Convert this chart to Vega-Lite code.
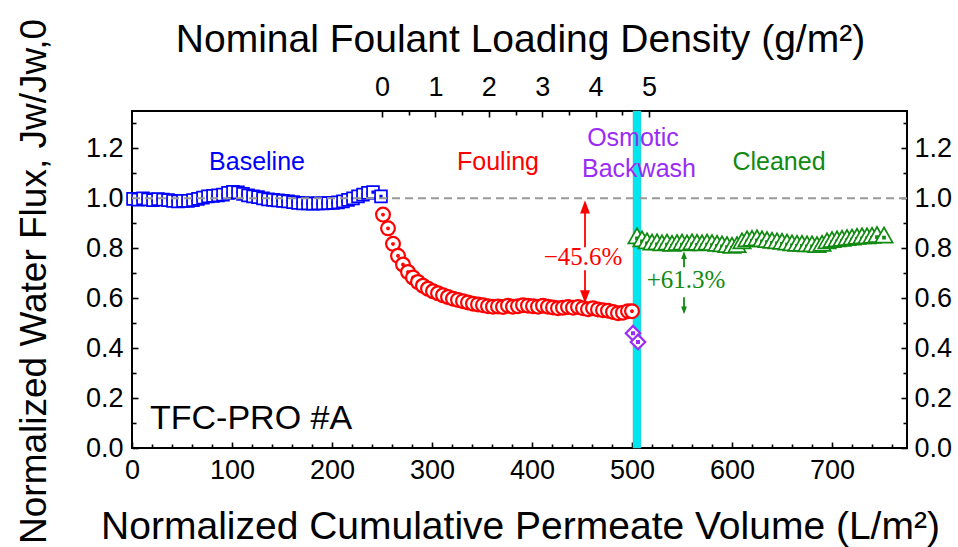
{
"$schema": "https://vega.github.io/schema/vega-lite/v6.json",
"width": 775, "height": 337,
"autosize": {"type": "none"},
"padding": {"left": 132, "top": 111, "right": 51, "bottom": 99},
"background": "white",
"config": {
  "view": {"stroke": "#000", "strokeWidth": 2},
  "axis": {"domain": false, "grid": false, "labelFont": "Liberation Sans", "labelFontSize": 27, "labelColor": "#000", "tickColor": "#000", "tickWidth": 1.6, "titleFont": "Liberation Sans", "titleFontSize": 39, "titleFontWeight": "normal", "titleColor": "#000", "labelFlush": false, "labelOverlap": false, "labelBound": false}
},
"datasets": {
  "band": [{"x": 501, "x2": 509}],
  "ref": [{"y": 1.0}],
  "base": [
    {"x":1,"y":0.998},{"x":6,"y":0.995},{"x":11,"y":1.0},{"x":16,"y":0.996},{"x":21,"y":0.993},{"x":26,"y":0.997},{"x":31,"y":0.995},{"x":36,"y":0.993},{"x":41,"y":0.99},{"x":46,"y":0.988},
    {"x":51,"y":0.99},{"x":56,"y":0.99},{"x":61,"y":0.993},{"x":66,"y":0.998},{"x":71,"y":1.003},{"x":76,"y":1.008},{"x":81,"y":1.01},{"x":86,"y":1.012},{"x":91,"y":1.015},{"x":96,"y":1.022},
    {"x":101,"y":1.026},{"x":106,"y":1.024},{"x":111,"y":1.018},{"x":116,"y":1.012},{"x":121,"y":1.008},{"x":126,"y":1.005},{"x":131,"y":1.0},{"x":136,"y":0.996},{"x":141,"y":0.994},{"x":146,"y":0.992},
    {"x":151,"y":0.99},{"x":156,"y":0.988},{"x":161,"y":0.985},{"x":166,"y":0.982},{"x":171,"y":0.98},{"x":176,"y":0.98},{"x":181,"y":0.979},{"x":186,"y":0.98},{"x":191,"y":0.98},{"x":196,"y":0.981},
    {"x":201,"y":0.982},{"x":206,"y":0.984},{"x":211,"y":0.988},{"x":216,"y":0.994},{"x":221,"y":1.0},{"x":226,"y":1.008},{"x":231,"y":1.015},{"x":236,"y":1.022},{"x":241,"y":1.025},{"x":249,"y":1.008}
  ],
  "foul": [
    {"x":251,"y":0.935},{"x":256,"y":0.88},{"x":261,"y":0.818},{"x":266,"y":0.77},{"x":271,"y":0.735},{"x":276,"y":0.705},{"x":281,"y":0.683},{"x":286,"y":0.665},{"x":291,"y":0.65},{"x":296,"y":0.638},
    {"x":301,"y":0.628},{"x":306,"y":0.62},{"x":311,"y":0.612},{"x":316,"y":0.605},{"x":321,"y":0.598},{"x":326,"y":0.593},{"x":331,"y":0.588},{"x":336,"y":0.583},{"x":341,"y":0.578},{"x":346,"y":0.575},
    {"x":351,"y":0.572},{"x":356,"y":0.568},{"x":361,"y":0.566},{"x":366,"y":0.567},{"x":371,"y":0.565},{"x":376,"y":0.57},{"x":381,"y":0.566},{"x":386,"y":0.568},{"x":391,"y":0.572},{"x":396,"y":0.57},
    {"x":401,"y":0.568},{"x":406,"y":0.566},{"x":411,"y":0.57},{"x":416,"y":0.566},{"x":421,"y":0.563},{"x":426,"y":0.56},{"x":431,"y":0.562},{"x":436,"y":0.565},{"x":441,"y":0.562},{"x":446,"y":0.565},
    {"x":451,"y":0.56},{"x":456,"y":0.556},{"x":461,"y":0.56},{"x":466,"y":0.555},{"x":471,"y":0.552},{"x":476,"y":0.55},{"x":481,"y":0.545},{"x":486,"y":0.54},{"x":491,"y":0.542},{"x":496,"y":0.548},{"x":500,"y":0.548}
  ],
  "wash": [{"x":501,"y":0.46},{"x":506,"y":0.425}],
  "clean": [
    {"x":505,"y":0.85},{"x":510,"y":0.838},{"x":515,"y":0.83},{"x":520,"y":0.825},{"x":525,"y":0.826},{"x":530,"y":0.822},{"x":535,"y":0.825},{"x":540,"y":0.82},{"x":545,"y":0.823},{"x":550,"y":0.825},
    {"x":555,"y":0.822},{"x":560,"y":0.826},{"x":565,"y":0.824},{"x":570,"y":0.822},{"x":575,"y":0.825},{"x":580,"y":0.823},{"x":585,"y":0.82},{"x":590,"y":0.818},{"x":595,"y":0.815},{"x":600,"y":0.812},
    {"x":605,"y":0.815},{"x":610,"y":0.83},{"x":615,"y":0.838},{"x":620,"y":0.84},{"x":625,"y":0.842},{"x":630,"y":0.838},{"x":635,"y":0.835},{"x":640,"y":0.832},{"x":645,"y":0.83},{"x":650,"y":0.828},
    {"x":655,"y":0.825},{"x":660,"y":0.822},{"x":665,"y":0.82},{"x":670,"y":0.82},{"x":675,"y":0.818},{"x":680,"y":0.818},{"x":685,"y":0.815},{"x":690,"y":0.82},{"x":695,"y":0.83},{"x":700,"y":0.835},
    {"x":705,"y":0.838},{"x":710,"y":0.84},{"x":715,"y":0.843},{"x":720,"y":0.845},{"x":725,"y":0.848},{"x":730,"y":0.85},{"x":735,"y":0.85},{"x":740,"y":0.852},{"x":745,"y":0.855},{"x":752,"y":0.853}
  ],
  "arrows": [
    {"x":453,"y":0.97,"y2":0.804,"phase":"Fouling"},
    {"x":453,"y":0.712,"y2":0.60,"phase":"Fouling"},
    {"x":552,"y":0.775,"y2":0.724,"phase":"Cleaned"},
    {"x":552,"y":0.604,"y2":0.55,"phase":"Cleaned"}
  ],
  "heads": [
    {"x":453,"y":0.992,"dir":"up","phase":"Fouling"},
    {"x":453,"y":0.58,"dir":"down","phase":"Fouling"},
    {"x":552,"y":0.788,"dir":"up","phase":"Cleaned"},
    {"x":552,"y":0.536,"dir":"down","phase":"Cleaned"}
  ],
  "phases": [
    {"x":125,"y":1.112,"text":"Baseline","phase":"Baseline"},
    {"x":366,"y":1.112,"text":"Fouling","phase":"Fouling"},
    {"x":501,"y":1.208,"text":"Osmotic","phase":"Backwash"},
    {"x":507,"y":1.085,"text":"Backwash","phase":"Backwash"},
    {"x":647,"y":1.112,"text":"Cleaned","phase":"Cleaned"}
  ],
  "pct": [
    {"x":451,"y":0.732,"text":"\u221245.6%","phase":"Fouling"},
    {"x":554,"y":0.64,"text":"+61.3%","phase":"Cleaned"}
  ],
  "sample": [{"x":18,"y":0.076,"text":"TFC-PRO #A"}]
},
"layer": [
  {"data": {"name": "band"}, "mark": {"type": "rect", "color": "#00e6f0", "stroke": "#7fa9ad", "strokeWidth": 0.5},
   "encoding": {"x": {"field": "x", "type": "quantitative", "scale": {"domain": [0, 775], "nice": false, "zero": false}, "axis": null}, "x2": {"field": "x2"}}},
  {"data": {"name": "base"}, "mark": {"type": "point", "shape": "M-1,-1L1,-1L1,1L-1,1Z M-0.12,-0.12L0.12,-0.12L0.12,0.12L-0.12,0.12Z", "size": 140, "filled": false, "fill": "white", "fillOpacity": 1, "stroke": "#0000ff", "strokeWidth": 1.7, "opacity": 1},
   "encoding": {
     "x": {"field": "x", "type": "quantitative", "scale": {"domain": [0, 775], "nice": false, "zero": false},
           "axis": {"orient": "bottom", "values": [0,100,200,300,400,500,600,700], "tickSize": -6, "labelPadding": 15, "title": "Normalized Cumulative Permeate Volume (L/m\u00b2)", "titleBaseline": "alphabetic", "titleY": 90, "titleX": 388, "titleAnchor": null}},
     "y": {"field": "y", "type": "quantitative", "scale": {"domain": [0, 1.35], "nice": false, "zero": false},
           "axis": {"orient": "left", "values": [0,0.2,0.4,0.6,0.8,1.0,1.2], "format": ".1f", "tickSize": -6, "labelPadding": 15, "title": "Normalized Water Flux, Jw/Jw,0", "titleFontSize": 37, "titleBaseline": "alphabetic", "titleX": -87, "titleY": 170, "titleAngle": -90, "titleAlign": "center"}}
   }},
  {"data": {"name": "foul"}, "mark": {"type": "point", "shape": "M1,0A1,1,0,1,1,-1,0A1,1,0,1,1,1,0Z M0.12,0A0.12,0.12,0,1,1,-0.12,0A0.12,0.12,0,1,1,0.12,0Z", "size": 190, "filled": false, "fill": "white", "fillOpacity": 1, "stroke": "#ff0000", "strokeWidth": 2.2, "opacity": 1},
   "encoding": {
     "x": {"field": "x", "type": "quantitative", "scale": {"domain": [0, 775], "nice": false, "zero": false},
           "axis": {"orient": "bottom", "values": [20,40,60,80,120,140,160,180,220,240,260,280,320,340,360,380,420,440,460,480,520,540,560,580,620,640,660,680,720,740,760], "tickSize": -4, "labels": false, "title": null}},
     "y": {"field": "y", "type": "quantitative", "scale": {"domain": [0, 1.35], "nice": false, "zero": false},
           "axis": {"orient": "left", "values": [0.1,0.3,0.5,0.7,0.9,1.1,1.3], "tickSize": -4, "labels": false, "title": null}}
   }},
  {"data": {"name": "wash"}, "mark": {"type": "point", "shape": "M-1,0L0,-1L1,0L0,1Z M-0.12,-0.12L0.12,-0.12L0.12,0.12L-0.12,0.12Z", "size": 210, "filled": false, "fill": "white", "fillOpacity": 1, "stroke": "#9a2cf5", "strokeWidth": 2.2, "opacity": 1},
   "encoding": {
     "x": {"field": "x", "type": "quantitative", "scale": {"domain": [0, 775], "nice": false, "zero": false},
           "axis": {"orient": "top", "values": [276.7,330.1,383.5,436.9,490.3], "tickSize": -4, "labels": false, "title": null}},
     "y": {"field": "y", "type": "quantitative", "scale": {"domain": [0, 1.35], "nice": false, "zero": false},
           "axis": {"orient": "right", "values": [0.1,0.3,0.5,0.7,0.9,1.1,1.3], "tickSize": -4, "labels": false, "title": null}}
   }},
  {"data": {"name": "clean"}, "mark": {"type": "point", "shape": "M0,-0.87L1,0.87L-1,0.87Z M-0.12,0.17L0.12,0.17L0.12,0.41L-0.12,0.41Z", "size": 300, "filled": false, "fill": "white", "fillOpacity": 1, "stroke": "#108a10", "strokeWidth": 1.7, "opacity": 1},
   "encoding": {
     "x": {"field": "x", "type": "quantitative", "scale": {"domain": [0, 775], "nice": false, "zero": false},
           "axis": {"orient": "top", "values": [250,303.4,356.8,410.2,463.6,517], "labelExpr": "format((datum.value-250)/53.4, '.0f')", "tickSize": -6, "labelPadding": 16, "title": "Nominal Foulant Loading Density (g/m\u00b2)", "titleBaseline": "alphabetic", "titleY": -60, "titleX": 388}},
     "y": {"field": "y", "type": "quantitative", "scale": {"domain": [0, 1.35], "nice": false, "zero": false},
           "axis": {"orient": "right", "values": [0,0.2,0.4,0.6,0.8,1.0,1.2], "format": ".1f", "tickSize": -6, "labelPadding": 13, "title": null}}
   }},
  {"data": {"name": "ref"}, "mark": {"type": "rule", "color": "#999999", "strokeWidth": 2, "strokeDash": [8, 5]},
   "encoding": {"y": {"field": "y", "type": "quantitative", "scale": {"domain": [0, 1.35], "nice": false, "zero": false}, "axis": null}}},
  {"data": {"name": "arrows"}, "mark": {"type": "rule", "strokeWidth": 1.8},
   "encoding": {
     "x": {"field": "x", "type": "quantitative", "scale": {"domain": [0, 775], "nice": false, "zero": false}, "axis": null},
     "y": {"field": "y", "type": "quantitative", "scale": {"domain": [0, 1.35], "nice": false, "zero": false}, "axis": null},
     "y2": {"field": "y2"},
     "color": {"field": "phase", "type": "nominal", "scale": {"domain": ["Baseline","Fouling","Backwash","Cleaned"], "range": ["#0000ff","#ff0000","#9a2cf5","#108a10"]}, "legend": null}
   }},
  {"data": {"name": "heads"}, "mark": {"type": "point", "filled": true, "opacity": 1, "strokeWidth": 0},
   "encoding": {
     "x": {"field": "x", "type": "quantitative", "scale": {"domain": [0, 775], "nice": false, "zero": false}, "axis": null},
     "y": {"field": "y", "type": "quantitative", "scale": {"domain": [0, 1.35], "nice": false, "zero": false}, "axis": null},
     "shape": {"field": "dir", "type": "nominal", "scale": {"domain": ["up","down"], "range": ["M0,0L-0.55,1.45L0.55,1.45Z", "M0,0L-0.55,-1.45L0.55,-1.45Z"]}, "legend": null},
     "size": {"field": "phase", "type": "nominal", "scale": {"domain": ["Fouling","Cleaned"], "range": [324, 110]}, "legend": null},
     "color": {"field": "phase", "type": "nominal", "scale": {"domain": ["Baseline","Fouling","Backwash","Cleaned"], "range": ["#0000ff","#ff0000","#9a2cf5","#108a10"]}, "legend": null}
   }},
  {"data": {"name": "phases"}, "mark": {"type": "text", "font": "Liberation Sans", "fontSize": 25, "align": "center", "baseline": "alphabetic"},
   "encoding": {
     "x": {"field": "x", "type": "quantitative", "scale": {"domain": [0, 775], "nice": false, "zero": false}, "axis": null},
     "y": {"field": "y", "type": "quantitative", "scale": {"domain": [0, 1.35], "nice": false, "zero": false}, "axis": null},
     "text": {"field": "text"},
     "color": {"field": "phase", "type": "nominal", "scale": {"domain": ["Baseline","Fouling","Backwash","Cleaned"], "range": ["#0000ff","#ff0000","#9a2cf5","#108a10"]}, "legend": null}
   }},
  {"data": {"name": "pct"}, "mark": {"type": "text", "font": "Liberation Serif", "fontSize": 25, "align": "center", "baseline": "alphabetic"},
   "encoding": {
     "x": {"field": "x", "type": "quantitative", "scale": {"domain": [0, 775], "nice": false, "zero": false}, "axis": null},
     "y": {"field": "y", "type": "quantitative", "scale": {"domain": [0, 1.35], "nice": false, "zero": false}, "axis": null},
     "text": {"field": "text"},
     "color": {"field": "phase", "type": "nominal", "scale": {"domain": ["Baseline","Fouling","Backwash","Cleaned"], "range": ["#0000ff","#ff0000","#9a2cf5","#108a10"]}, "legend": null}
   }},
  {"data": {"name": "sample"}, "mark": {"type": "text", "font": "Liberation Sans", "fontSize": 34, "align": "left", "baseline": "alphabetic", "color": "#000"},
   "encoding": {
     "x": {"field": "x", "type": "quantitative", "scale": {"domain": [0, 775], "nice": false, "zero": false}, "axis": null},
     "y": {"field": "y", "type": "quantitative", "scale": {"domain": [0, 1.35], "nice": false, "zero": false}, "axis": null},
     "text": {"field": "text"}
   }}
],
"resolve": {"axis": {"x": "independent", "y": "independent"}}
}
